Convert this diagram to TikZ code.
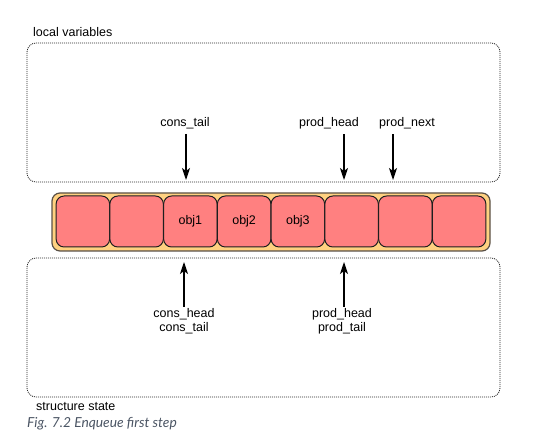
\documentclass[tikz,border=0pt]{standalone}
\usepackage{fontspec}
\setmainfont{Liberation Sans}
\newfontfamily\capfont{Lato}
\usetikzlibrary{positioning,arrows.meta}
\definecolor{cellred}{RGB}{255,128,128}
\definecolor{ringorange}{RGB}{255,209,128}
\definecolor{edgedark}{RGB}{30,30,30}
\definecolor{ringedge}{RGB}{90,80,70}
\definecolor{dotgrey}{RGB}{40,40,40}
\definecolor{capgrey}{RGB}{75,85,100}
\tikzset{
  area/.style={draw=dotgrey,dash pattern=on 1pt off 1pt,line width=0.8pt,rounded corners=9pt,inner sep=0pt},
  ring/.style={draw=ringedge,fill=ringorange,rounded corners=8pt,line width=1.2pt,inner sep=0pt},
  cell/.style={draw=edgedark,fill=cellred,rounded corners=8pt,line width=1pt,minimum width=53.5pt,minimum height=51pt,inner sep=0pt,font=\fontsize{12.5}{14}\selectfont},
  lbl/.style={font=\fontsize{12.5}{14}\selectfont,inner sep=1pt,align=center},
  ptr/.style={-{Stealth[length=12pt,width=8pt,inset=3pt]},line width=1.2pt},
}
\begin{document}
\begin{tikzpicture}[x=1pt,y=-1pt]
\useasboundingbox (0,0) rectangle (533,438);

% the two regions
\node[area,minimum width=473pt,minimum height=139pt] (locals) at (263.5,112.5) {};
\node[lbl,anchor=base west] (localsname) at (32,37) {local variables};
\node[area,minimum width=473pt,minimum height=139pt] (state) at (263.5,327.5) {};
\node[lbl,anchor=base west] (statename) at (35,410) {structure state};

% ring buffer
\node[ring,minimum width=438pt,minimum height=58pt] (bar) at (271,222) {};
\foreach \i/\txt in {1/,2/,3/obj1,4/obj2,5/obj3,6/,7/,8/}
  \node[cell] (c\i) at ({56+53.75*(\i-0.5)},221.5) {\txt};

% local pointers
\node[lbl] (ct) at (185,123) {cons\_tail};
\node[lbl] (ph) at (329,123) {prod\_head};
\node[lbl] (pn) at (407,123) {prod\_next};
\coordinate (ctTip) at (186,180);
\coordinate (phTip) at (344,180);
\coordinate (pnTip) at (393,180);
\draw[ptr] (ct.south -| ctTip) ++(0,4) -- (ctTip);
\draw[ptr] (ph.south -| phTip) ++(0,4) -- (phTip);
\draw[ptr] (pn.south -| pnTip) ++(0,4) -- (pnTip);

% shared pointers
\node[lbl,anchor=north] (cs) at (184,307) {cons\_head\\cons\_tail};
\node[lbl,anchor=north] (ps) at (342,307) {prod\_head\\prod\_tail};
\coordinate (csTip) at (184,262);
\coordinate (psTip) at (344,262);
\draw[ptr] (cs.north -| csTip) -- (csTip);
\draw[ptr] (ps.north -| psTip) -- (psTip);

\node[anchor=base west,inner sep=0pt,text=capgrey,font=\capfont\itshape\fontsize{13.8}{15}\selectfont] (caption) at (27,428) {Fig. 7.2 Enqueue first step};
\end{tikzpicture}
\end{document}
